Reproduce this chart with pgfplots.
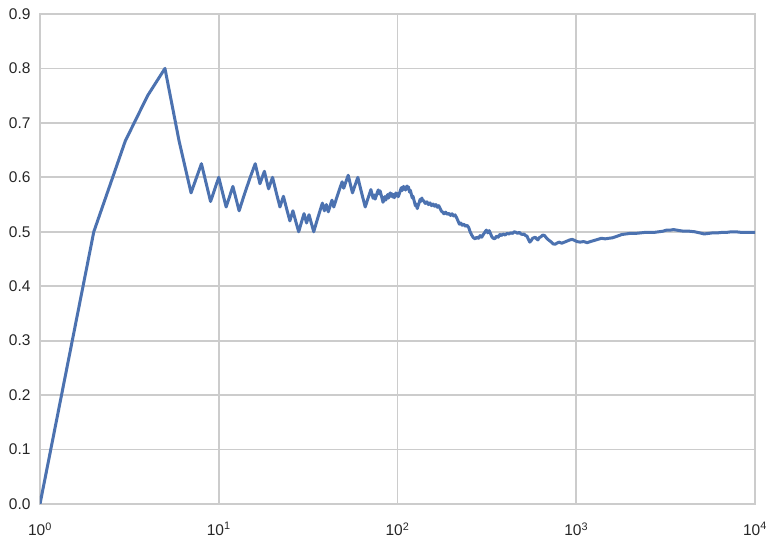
\documentclass[border=0pt]{standalone}
\usepackage{fontspec}
\setmainfont{Liberation Sans}
\usepackage{pgfplots}
\pgfplotsset{compat=1.18}
\definecolor{sbblue}{RGB}{76,114,176}
\definecolor{sbgrid}{RGB}{204,204,204}
\definecolor{sbtext}{RGB}{38,38,38}

\begin{document}
\begin{tikzpicture}
\begin{axis}[
  scale only axis, width=715bp, height=490bp,
  xmode=log, xmin=1, xmax=10000, ymin=0, ymax=0.9,
  xtick={1,10,100,1000,10000},
  xticklabels={10\textsuperscript{0},10\textsuperscript{1},10\textsuperscript{2},10\textsuperscript{3},10\textsuperscript{4}},
  ytick={0,0.1,...,0.9},
  yticklabel style={/pgf/number format/fixed, /pgf/number format/fixed zerofill,
    /pgf/number format/precision=1, /pgf/number format/assume math mode=true, xshift=-6bp},
  tick label style={font=\fontsize{15.5bp}{18bp}\selectfont, text=sbtext},
  xticklabel style={yshift=-15bp},
  major tick length=0pt, minor tick length=0pt, minor x tick num=0,
  xmajorgrids, ymajorgrids, grid style={sbgrid, line width=1.8bp},
  axis line style={sbgrid, line width=1.8bp},
  axis background/.style={fill=white}]
\addplot[sbblue, line width=3bp, line join=round] coordinates {
(1,0.0) (2,0.5) (3,0.6667) (4,0.75) (5,0.8) (6,0.6667) (7,0.5714) (8,0.625) (9,0.5556) (10,0.6)
(11,0.5455) (12,0.5833) (13,0.5385) (14,0.5714) (15,0.6) (16,0.625) (17,0.5882) (18,0.6111) (19,0.5789) (20,0.6)
(21,0.5714) (22,0.5455) (23,0.5652) (24,0.5417) (25,0.52) (26,0.5385) (27,0.5185) (28,0.5) (29,0.5172) (30,0.5333)
(31,0.5161) (32,0.5313) (33,0.5152) (34,0.5) (35,0.5143) (36,0.5278) (37,0.5405) (38,0.5526) (39,0.5385) (40,0.55)
(41,0.5366) (42,0.5476) (43,0.5581) (44,0.5455) (45,0.5556) (46,0.5652) (47,0.5745) (48,0.5833) (49,0.5918) (50,0.58)
(51,0.5882) (52,0.5962) (53,0.6038) (54,0.5926) (55,0.5818) (56,0.5714) (57,0.5789) (58,0.5862) (59,0.5932) (60,0.6)
(61,0.5902) (62,0.5806) (63,0.5714) (64,0.5625) (65,0.5538) (66,0.5455) (67,0.5522) (68,0.5588) (69,0.5652) (70,0.5714)
(71,0.5775) (72,0.5694) (73,0.5616) (74,0.5676) (75,0.56) (76,0.5658) (77,0.5714) (78,0.5769) (79,0.5696) (80,0.575)
(81,0.5679) (82,0.5610) (83,0.5542) (84,0.5595) (85,0.5647) (86,0.5581) (87,0.5632) (88,0.5682) (89,0.5618) (90,0.5667)
(91,0.5714) (92,0.5652) (93,0.5699) (94,0.5638) (95,0.5684) (96,0.5625) (97,0.5670) (98,0.5714) (99,0.5657) (100,0.57)
(101,0.5644) (102,0.5686) (103,0.5728) (104,0.5769) (105,0.5810) (106,0.5755) (107,0.5794) (108,0.5833) (109,0.5780) (110,0.5818)
(111,0.5766) (112,0.5804) (113,0.5841) (114,0.5789) (115,0.5826) (116,0.5776) (117,0.5726) (118,0.5763) (119,0.5714) (120,0.5667)
(121,0.5620) (122,0.5656) (123,0.5610) (124,0.5565) (125,0.552) (126,0.5476) (127,0.5512) (128,0.5469) (129,0.5426) (130,0.5462)
(131,0.5496) (132,0.5530) (133,0.5564) (134,0.5597) (135,0.5556) (136,0.5588) (137,0.5620) (138,0.5580)
(140,0.557) (143,0.552) (146,0.555) (149,0.550) (152,0.553) (155,0.548) (158,0.551) (161,0.547) (164,0.550) (167,0.545)
(170,0.548) (173,0.543) (176,0.538) (179,0.536) (182,0.533) (186,0.536) (190,0.532) (194,0.534) (198,0.530) (202,0.533)
(206,0.529) (210,0.531) (214,0.526) (218,0.520) (222,0.514) (226,0.516) (230,0.512) (235,0.514) (240,0.510) (245,0.512)
(250,0.508) (255,0.500) (260,0.494) (266,0.489) (272,0.487) (278,0.490) (284,0.488) (290,0.493) (296,0.490) (302,0.495)
(308,0.499) (314,0.503) (320,0.498) (326,0.502) (332,0.496) (338,0.490) (344,0.488) (350,0.487) (358,0.492) (366,0.490)
(374,0.495) (382,0.493) (390,0.496) (400,0.494) (410,0.497) (420,0.496) (430,0.498) (440,0.497) (450,0.500) (460,0.499)
(470,0.497) (480,0.499) (490,0.496) (500,0.495) (510,0.496) (520,0.493) (530,0.492) (540,0.486) (550,0.481) (560,0.484)
(570,0.488) (580,0.489) (590,0.490) (600,0.487) (610,0.485) (620,0.489) (635,0.491) (650,0.494) (665,0.493) (680,0.489)
(700,0.485) (720,0.482) (740,0.478) (760,0.477) (780,0.479) (800,0.481) (830,0.479) (860,0.481) (890,0.483) (920,0.485)
(950,0.486) (980,0.484) (1010,0.482) (1050,0.481) (1100,0.482) (1150,0.480) (1200,0.482) (1260,0.484) (1320,0.486) (1380,0.488)
(1450,0.487) (1520,0.488) (1600,0.489) (1700,0.492) (1800,0.495) (1900,0.496) (2000,0.497) (2150,0.497) (2300,0.498) (2450,0.499)
(2600,0.499) (2750,0.499) (2900,0.500) (3050,0.501) (3200,0.503) (3350,0.503) (3500,0.504) (3650,0.503) (3800,0.502) (4000,0.501)
(4300,0.501) (4600,0.500) (4900,0.498) (5200,0.496) (5500,0.497) (5800,0.498) (6200,0.498) (6600,0.499) (7000,0.499) (7400,0.500)
(7800,0.500) (8300,0.499) (8800,0.499) (9300,0.499) (10000,0.499)
};
\end{axis}
\pgfresetboundingbox
\path ([shift={(-40bp,-39bp)}]current axis.south west) rectangle ([shift={(20bp,14bp)}]current axis.north east);
\end{tikzpicture}
\end{document}
